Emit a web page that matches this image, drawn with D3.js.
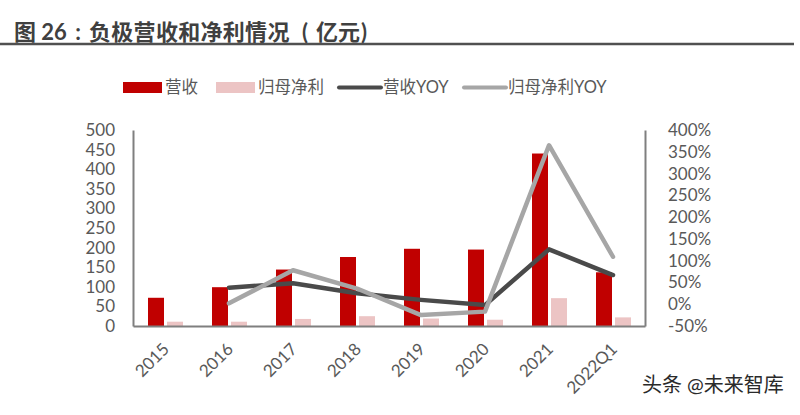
<!DOCTYPE html>
<html><head><meta charset="utf-8">
<script src="https://cdn.jsdelivr.net/npm/d3@7"></script>
<style>body{margin:0;background:#fff}svg{display:block}text{font-family:Lato,"Noto Sans CJK SC",sans-serif}</style>
</head><body><svg id="c" width="800" height="415"></svg>
<script>
const categories = ["2015","2016","2017","2018","2019","2020","2021","2022Q1"];
const revenue = [72, 99, 144, 176, 197, 195, 440, 137];
const netProfit = [11, 11, 18, 25, 19, 16, 71, 22];
const revenueYoY = [null, 38, 48, 25, 10, -2, 126, 67];
const profitYoY = [null, 2, 78, 36, -25, -17, 365, 109];
const leftTicks = [0,50,100,150,200,250,300,350,400,450,500];
const rightTicks = [-50,0,50,100,150,200,250,300,350,400];

const svg = d3.select("#c");
const L = 133, R = 645, T = 130, B = 326;
const x = d3.scaleBand().domain(categories).range([L, R]);
const yL = d3.scaleLinear().domain([0, 500]).range([B, T]);
const yR = d3.scaleLinear().domain([-50, 400]).range([B, T]);
const labelColor = "#595959";

// title (pieces placed to mimic centred full-width punctuation)
const titleParts = [
  {t:"图 26", x:14, a:"start"},
  {t:":", x:78, a:"middle"},
  {t:"负极营收和净利情况", x:89, a:"start", ls:0.3},
  {t:"(", x:305, a:"middle"},
  {t:"亿元", x:316, a:"start"},
  {t:")", x:364, a:"middle"}
];
const tg = svg.append("g").attr("font-size", 22).attr("font-weight", "bold").attr("fill", "#404040");
titleParts.forEach(p => {
  tg.append("text").attr("x", p.x).attr("y", 40).attr("text-anchor", p.a)
    .attr("letter-spacing", p.ls || 0)
    .attr("font-family", 'Lato,"Noto Sans CJK SC",sans-serif').text(p.t);
});
svg.append("line").attr("x1", 0).attr("x2", 794).attr("y1", 44).attr("y2", 44)
  .attr("stroke", "#505050").attr("stroke-width", 2.5);

// legend
const lg = svg.append("g");
const legendItems = [
  {t:"营收", type:"rect", c:"#c00000", x:123},
  {t:"归母净利", type:"rect", c:"#ecc4c4", x:216},
  {t:"营收YOY", type:"line", c:"#4a4a4a", x:339},
  {t:"归母净利YOY", type:"line", c:"#a6a6a6", x:464}
];
legendItems.forEach(d => {
  if (d.type === "rect") lg.append("rect").attr("x", d.x).attr("y", 82).attr("width", 39).attr("height", 11).attr("fill", d.c);
  else lg.append("line").attr("x1", d.x).attr("x2", d.x + 42).attr("y1", 87.5).attr("y2", 87.5).attr("stroke", d.c).attr("stroke-width", 4).attr("stroke-linecap", "round");
  lg.append("text").attr("x", d.x + (d.type === "rect" ? 42 : 44)).attr("y", 87.5).attr("dy", "0.35em")
    .attr("font-size", 16.5).attr("fill", labelColor).text(d.t);
});

// bars
const bw = 16, gap = 3;
svg.append("g").selectAll("rect").data(categories).join("rect")
  .attr("x", d => x(d) + x.bandwidth()/2 - bw - gap/2 + 0.5).attr("width", bw)
  .attr("y", (d,i) => yL(revenue[i])).attr("height", (d,i) => B - yL(revenue[i]))
  .attr("fill", "#c00000");
svg.append("g").selectAll("rect").data(categories).join("rect")
  .attr("x", d => x(d) + x.bandwidth()/2 + gap/2 + 0.5).attr("width", bw)
  .attr("y", (d,i) => yL(netProfit[i])).attr("height", (d,i) => B - yL(netProfit[i]))
  .attr("fill", "#ecc4c4");

// lines
const line = (arr) => d3.line().defined(d => d.v !== null)
  .x(d => x(d.c) + x.bandwidth()/2).y(d => yR(d.v))(categories.map((c,i) => ({c, v: arr[i]})));
svg.append("path").attr("d", line(revenueYoY)).attr("fill", "none").attr("stroke", "#4a4a4a").attr("stroke-width", 4.5).attr("stroke-linejoin", "round").attr("stroke-linecap", "round");
svg.append("path").attr("d", line(profitYoY)).attr("fill", "none").attr("stroke", "#a6a6a6").attr("stroke-width", 4.5).attr("stroke-linejoin", "round").attr("stroke-linecap", "round");

// axes
const axL = svg.append("g").attr("transform", `translate(${L},0)`)
  .call(d3.axisLeft(yL).tickValues(leftTicks).tickSize(0).tickPadding(18));
const axR = svg.append("g").attr("transform", `translate(${R},0)`)
  .call(d3.axisRight(yR).tickValues(rightTicks).tickSize(0).tickPadding(23).tickFormat(d => d + "%"));
const axB = svg.append("g").attr("transform", `translate(0,${B})`)
  .call(d3.axisBottom(x).tickSize(0).tickPadding(0));
[axL, axR, axB].forEach(a => {
  a.select(".domain").attr("stroke", "#7f7f7f").attr("stroke-width", 2);
  a.selectAll("text").attr("font-size", 17).attr("fill", labelColor).attr("font-family", 'Lato,"Noto Sans CJK SC",sans-serif');
});
axB.selectAll(".tick text").attr("text-anchor", "end").attr("dy", "0.35em")
  .attr("transform", "translate(1,20) rotate(-45)");

// watermark
svg.append("text").attr("x", 642).attr("y", 392).attr("font-size", 20).attr("fill", "#2a2a2a")
  .attr("stroke", "#fff").attr("stroke-width", 3).attr("paint-order", "stroke").text("头条 @未来智库");
</script></body></html>
